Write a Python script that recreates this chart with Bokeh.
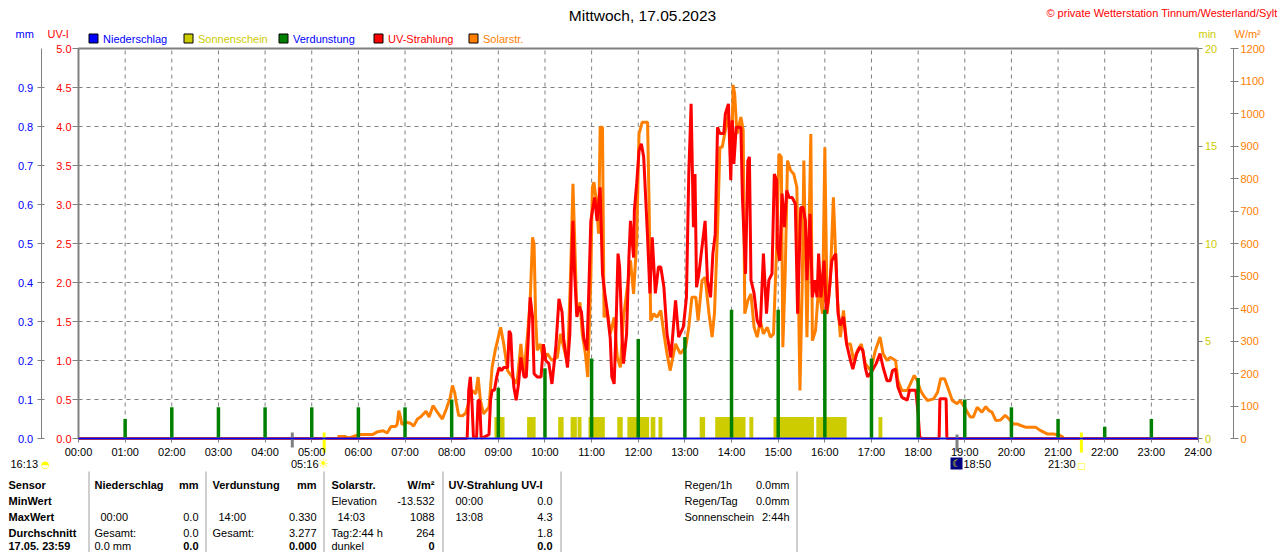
import numpy as np
from bokeh.plotting import figure
from bokeh.models import (Range1d, LinearAxis, FixedTicker, Label, ColumnDataSource,
                          NumeralTickFormatter)
from bokeh.core.properties import value
from bokeh.embed import file_html
from bokeh.resources import INLINE

FONT = "Liberation Sans"
SYM = "DejaVu Sans"

# ---------------- data ----------------
# Solar radiation, minute of day -> W/m2
solar_t = [333, 343, 348, 353, 358, 363, 378, 385, 392, 397, 402, 408, 410, 412, 414, 416, 421, 427, 431, 436,
           440, 447, 451, 456, 461, 468, 473, 478, 481, 484, 486, 489, 494, 498, 502, 506, 511, 514, 517, 521,
           528, 532, 536, 543, 547, 552, 558, 564, 569, 573, 578, 581, 584, 586, 588, 590, 594, 598, 603, 609,
           616, 620, 624, 629, 633, 636, 638, 641, 645, 648, 652, 655, 659, 661, 663, 666, 669, 671, 674, 676,
           680, 684, 689, 693, 697, 701, 706, 710, 714, 718, 721, 725, 732, 734, 736, 740, 744, 749, 753, 757,
           761, 768, 774, 781, 785, 789, 794, 797, 802, 806, 811, 815, 818, 822, 825, 828, 832, 836, 840, 842,
           844, 847, 852, 855, 857, 861, 865, 869, 873, 877, 881, 886, 890, 894, 898, 901, 904, 906, 909, 912,
           916, 920, 924, 928, 931, 933, 937, 942, 944, 948, 952, 957, 960, 963, 967, 971, 976, 980, 984, 988,
           993, 997, 1002, 1007, 1012, 1019, 1025, 1031, 1035, 1040, 1044, 1051, 1054, 1059, 1066, 1070, 1075,
           1079, 1083, 1087, 1092, 1100, 1105, 1109, 1114, 1118, 1124, 1130, 1134, 1141, 1147, 1151, 1156, 1162,
           1167, 1171, 1175, 1180, 1186, 1192, 1197, 1202, 1207, 1212, 1218, 1225, 1231, 1237, 1246, 1254, 1261,
           1265, 1267]
solar_w = [6, 6, 2, 6, 10, 12, 12, 21, 24, 17, 37, 37, 45, 86, 68, 43, 50, 47, 38, 60,
           66, 84, 66, 101, 83, 60, 90, 125, 163, 140, 110, 71, 70, 78, 110, 148, 137, 189, 117, 76,
           96, 219, 271, 342, 291, 209, 189, 168, 291, 199, 332, 425, 619, 599, 373, 271, 291, 240, 261, 240,
           250, 322, 281, 230, 507, 784, 630, 384, 419, 322, 261, 189, 496, 773, 789, 732, 630, 958, 958, 373,
           394, 322, 373, 250, 219, 373, 466, 548, 445, 609, 937, 973, 973, 712, 363, 384, 373, 394, 322, 260,
           209, 291, 261, 281, 342, 435, 435, 363, 486, 496, 384, 312, 384, 640, 896, 896, 948, 999, 845, 1088,
           1061, 937, 989, 948, 384, 425, 445, 342, 312, 363, 322, 342, 312, 322, 589, 876, 866, 281, 507, 855,
           825, 814, 773, 148, 486, 855, 312, 937, 301, 332, 466, 384, 896, 384, 486, 742, 435, 312, 394, 291,
           291, 240, 271, 291, 230, 209, 271, 312, 261, 240, 250, 240, 178, 148, 148, 168, 194,
           178, 148, 132, 117, 122, 142, 184, 184, 158, 117, 107, 117, 91, 66, 66, 96, 81,
           98, 86, 81, 55, 57, 71, 60, 45, 45, 40, 35, 35, 35, 25, 14, 14, 11,
           6, 3]

# UV index, minute of day -> UV-I
uv_t = [0, 499, 500, 502, 504, 506, 508, 512, 514, 516, 518, 528, 530, 532, 535, 538, 541, 544, 547, 552,
        554, 556, 558, 560, 563, 566, 569, 573, 576, 579, 581, 584, 586, 590, 595, 598, 601, 605, 609, 614,
        618, 622, 624, 629, 632, 634, 636, 638, 641, 644, 647, 650, 654, 656, 659, 661, 664, 667, 671, 674,
        677, 680, 684, 686, 689, 691, 694, 696, 699, 701, 705, 708, 710, 714, 715, 718, 721, 724, 727, 732,
        735, 738, 742, 746, 749, 753, 757, 762, 768, 772, 778, 782, 785, 788, 791, 793, 795, 798, 801, 804,
        806, 809, 813, 816, 819, 822, 825, 830, 832, 836, 839, 841, 843, 846, 852, 854, 858, 861, 863, 865,
        869, 873, 877, 881, 885, 888, 892, 895, 898, 899, 902, 905, 908, 911, 914, 918, 922, 925, 929, 932,
        935, 937, 941, 944, 947, 950, 952, 955, 959, 962, 965, 969, 974, 977, 980, 984, 988, 993, 996, 1001,
        1005, 1009, 1012, 1015, 1021, 1026, 1031, 1035, 1040, 1044, 1047, 1051, 1054, 1059, 1066, 1069, 1077,
        1080, 1082, 1085, 1107, 1108, 1116, 1117, 1440]
uv_i = [0, 0, 0.02, 0.62, 0.79, 0.49, 0.02, 0.0, 0.49, 0.49, 0.0, 0.05, 0.49, 0.62, 0.62, 0.79, 0.91, 0.87, 0.91, 0.91,
        1.38, 1.34, 0.91, 0.66, 0.49, 0.70, 1.04, 0.79, 0.79, 1.38, 1.81, 1.56, 0.83, 0.79, 0.79, 1.21, 1.0, 0.96, 0.70, 1.17,
        1.79, 1.62, 1.28, 0.91, 1.34, 2.15, 2.79, 2.15, 1.56, 1.69, 1.62, 1.28, 1.13, 1.75, 2.79, 2.92, 3.09, 2.79, 3.22, 2.11,
        1.86, 1.64, 1.28, 0.79, 0.70, 1.28, 2.37, 2.2, 1.34, 0.96, 1.34, 2.32, 2.79, 2.32, 2.92, 3.27, 3.69, 3.78, 3.61, 2.58,
        1.86, 2.58, 1.86, 2.2, 2.2, 1.94, 1.34, 1.04, 1.77, 1.30, 1.43, 1.81, 3.39, 4.29, 2.71, 3.39, 1.94, 2.11, 2.37, 2.62,
        2.79, 2.03, 1.81, 2.37, 2.62, 3.99, 3.91, 3.91, 4.16, 4.29, 3.31, 4.08, 3.52, 3.99, 3.99, 3.09, 2.11, 3.56, 3.61, 2.03,
        1.86, 1.51, 1.43, 2.37, 1.60, 2.03, 2.11, 3.39, 3.31, 2.45, 2.28, 3.14, 2.71, 3.18, 3.09, 3.09, 3.01, 1.60, 2.96, 2.96,
        2.79, 2.03, 2.88, 1.81, 2.03, 1.81, 2.37, 1.81, 2.28, 1.60, 1.81, 2.28, 2.37, 1.60, 1.45, 1.56, 1.21, 1.0, 0.89, 1.09,
        1.17, 1.13, 0.91, 0.79, 0.87, 0.96, 1.09, 0.91, 0.74, 0.74, 0.87, 0.89, 0.66, 0.53, 0.49, 0.62, 0.62,
        0.32, 0.02, 0, 0, 0.51, 0.51, 0, 0]

# Evaporation per hour (mm)
evap_hour = list(range(1, 24))
evap_mm = [0.05, 0.08, 0.08, 0.08, 0.08, 0.08, 0.08, 0.10, 0.13, 0.18, 0.205, 0.255, 0.26,
           0.33, 0.33, 0.33, 0.205, 0.155, 0.10, 0.08, 0.05, 0.03, 0.05]

# Sunshine intervals (minute of day) and sunshine minutes
sun_start = [535, 577, 617, 633, 642, 656, 693, 706, 736, 746, 799, 819, 863, 894, 949, 1029]
sun_end = [548, 588, 624, 641, 647, 677, 700, 734, 742, 751, 806, 858, 868, 946, 988, 1034]
sun_min = [1.1] * len(sun_start)

# Precipitation (mm)
rain_hour = [0, 24]
rain_mm = [0.0, 0.0]

# Astronomical events (minute of day)
moon_rise = 275      # 04:35
sun_rise = 316       # 05:16
moon_set = 1130      # 18:50
sun_set = 1290       # 21:30

hour_ticks = list(range(25))
hour_labels = ["%02d:00" % h for h in hour_ticks]
uv_ticks = [i * 0.5 for i in range(11)]
mm_ticks = [i * 0.1 for i in range(10)]
min_ticks = [0, 5, 10, 15, 20]
wm_ticks = list(range(0, 1300, 100))

# ---------------- layout constants (pixels of the page) ----------------
W, H = 1280, 552
PX0, PX24 = 78.0, 1197.5      # x of 00:00 and 24:00
PY0, PYT = 438.0, 48.0        # y of value 0 and of the top of the scales


def xr(X):
    return (X - PX0) / (PX24 - PX0) * 24.0


def rng(top_val):
    k = top_val / (PY0 - PYT)
    return Range1d((PY0 - H) * k, PY0 * k)


p = figure(width=W, height=H, title=None, x_range=Range1d(xr(0), xr(W)), y_range=rng(5.0),
           min_border=0, min_border_left=0, min_border_right=0, min_border_top=0, min_border_bottom=0,
           toolbar_location=None, output_backend="svg",
           background_fill_color="white", border_fill_color="white", outline_line_color=None)
p.extra_y_ranges = {"mm": rng(1.0), "min": rng(20.0), "wm": rng(1200.0), "py": Range1d(H, 0)}
p.extra_x_ranges = {"px": Range1d(0, W)}
p.xgrid.visible = False
p.ygrid.visible = False

GRAY = "#808080"
YEL = "#cccc00"
ORA = "#ff8000"


def style_axis(ax, color, tin, tout, standoff, line=True):
    ax.major_label_text_color = color
    ax.major_label_text_font = FONT
    ax.major_label_text_font_size = "11px"
    ax.major_tick_in = tin
    ax.major_tick_out = tout
    ax.major_tick_line_color = GRAY
    ax.minor_tick_line_color = None
    ax.axis_line_color = GRAY if line else None
    ax.major_label_standoff = standoff


# x axis at value 0
xa = p.xaxis[0]
xa.ticker = FixedTicker(ticks=hour_ticks)
xa.major_label_overrides = {h: lab for h, lab in zip(hour_ticks, hour_labels)}
style_axis(xa, "black", 0, 4, 3)
xa.axis_line_width = 2
xa.fixed_location = 0
xa.bounds = (0, 24)

# UV axis at 00:00
ya = p.yaxis[0]
ya.ticker = FixedTicker(ticks=uv_ticks)
ya.formatter = NumeralTickFormatter(format="0.0")
style_axis(ya, "red", 0, 6, 1, line=False)
ya.fixed_location = 0
ya.bounds = (0, 5)

# mm axis further left
mm_axis = LinearAxis(y_range_name="mm", ticker=FixedTicker(ticks=mm_ticks),
                     formatter=NumeralTickFormatter(format="0.0"), bounds=(0, 1),
                     fixed_location=xr(40.7))
style_axis(mm_axis, "blue", 3, 4, 4)
p.add_layout(mm_axis, "left")

# sunshine minutes axis at 24:00
min_axis = LinearAxis(y_range_name="min", ticker=FixedTicker(ticks=min_ticks),
                      formatter=NumeralTickFormatter(format="0"), bounds=(0, 20),
                      fixed_location=24)
style_axis(min_axis, YEL, 0, 4, 3, line=False)
p.add_layout(min_axis, "right")

# W/m2 axis further right
wm_axis = LinearAxis(y_range_name="wm", ticker=FixedTicker(ticks=wm_ticks),
                     formatter=NumeralTickFormatter(format="0"), bounds=(0, 1200),
                     fixed_location=xr(1233))
style_axis(wm_axis, ORA, 3, 5, 2)
p.add_layout(wm_axis, "right")

# dashed grid inside the plot area
gx = hour_ticks[1:-1]
p.segment(x0=gx, y0=[0] * len(gx), x1=gx, y1=[5] * len(gx), line_color=GRAY, line_dash="4 4", line_width=1)
gy = uv_ticks[1:-1]
p.segment(x0=[0] * len(gy), y0=gy, x1=[24] * len(gy), y1=gy, line_color=GRAY, line_dash="4 4", line_width=1)

# ---------------- marks ----------------
sun_src = ColumnDataSource(dict(left=[t / 60 for t in sun_start], right=[t / 60 for t in sun_end],
                                top=sun_min, bottom=[0] * len(sun_start)))
p.quad(left="left", right="right", top="top", bottom="bottom", source=sun_src,
       y_range_name="min", fill_color=YEL, line_color=None)

p.line([t / 60 for t in solar_t], solar_w, y_range_name="wm", line_color=ORA, line_width=3)
p.line([t / 60 for t in uv_t], uv_i, line_color="#ff0000", line_width=3)

p.vbar(x=evap_hour, top=evap_mm, width=0.075, bottom=0, y_range_name="mm",
       fill_color="#008000", line_color=None)

# plot frame
p.line([0, 0, 24, 24], [0, 5, 5, 0], line_color=GRAY, line_width=2)

# precipitation line, drawn above the time axis
p.line(rain_hour, rain_mm, y_range_name="mm", line_color="#0000ff", line_width=1.5, level="overlay")

# ---------------- texts and decorations (page pixel coordinates) ----------------
def txt(X, Y, s, color="black", size=11, bold=False, align="left", font=FONT):
    p.add_layout(Label(x=X, y=Y, x_range_name="px", y_range_name="py", text=s, text_color=color,
                       text_font=font, text_font_size="%gpx" % size,
                       text_font_style="bold" if bold else "normal",
                       text_align=align, text_baseline="middle"))


def box(X0, X1, Y0, Y1, fill, line=None):
    p.quad(left=[X0], right=[X1], top=[Y0], bottom=[Y1], x_range_name="px", y_range_name="py",
           fill_color=fill, line_color=line, line_width=1)


txt(642, 15, "Mittwoch, 17.05.2023", size=15.5, align="center")
txt(1277, 12, "© private Wetterstation Tinnum/Westerland/Sylt", color="red", size=11, align="right")
txt(15, 33, "mm", color="blue")
txt(47, 33, "UV-I", color="red")
txt(1198, 33, "min", color=YEL)
txt(1234, 33, "W/m²", color=ORA)

legend = [("Niederschlag", "#0000ff", "blue"), ("Sonnenschein", YEL, YEL),
          ("Verdunstung", "#008000", "blue"), ("UV-Strahlung", "#ff0000", "red"),
          ("Solarstr.", ORA, ORA)]
for i, (name, fc, tc) in enumerate(legend):
    x0 = 88.5 + 95 * i
    box(x0, x0 + 9, 33.5, 42.5, fc, "black")
    txt(x0 + 14, 38, name, color=tc)

# event markers crossing the time axis
for t, c, y0, y1 in [(moon_rise, GRAY, 432, 447), (sun_rise, "#ffff00", 432, 452),
                     (moon_set, GRAY, 434, 451), (sun_set, "#ffff00", 432, 452)]:
    X = PX0 + t / 60 / 24 * (PX24 - PX0)
    box(X - 1.5, X + 1.5, y0, y1, c)

txt(10, 463, "16:13")
txt(45, 464, "◓", color="#ffff00", size=10, align="center", font=SYM)
txt(318, 463, "05:16", align="right")
txt(323, 463, "☀", color="#ffff00", size=13, align="center", font=SYM)
box(950, 962, 457, 469, "#000080")
txt(956, 463, "☾", color="#ffff00", size=10, align="center", font=SYM)
txt(963, 463, "18:50")
txt(1075, 463, "21:30", align="right")
txt(1081, 465, "□", color="#ffff00", size=9, align="center", font=SYM)

# table
rows = [484, 500, 516, 532, 545]
for Y, s in zip(rows, ["Sensor", "MinWert", "MaxWert", "Durchschnitt", "17.05. 23:59"]):
    txt(8, Y, s, bold=True)
for X in [88, 205, 323, 442, 560, 796]:
    box(X, X + 1, 471, 552, "#a0a0a0")

table = [
    (94, rows[0], "Niederschlag", True, "left"), (198, rows[0], "mm", True, "right"),
    (100, rows[2], "00:00", False, "left"), (198, rows[2], "0.0", False, "right"),
    (94, rows[3], "Gesamt:", False, "left"), (198, rows[3], "0.0", False, "right"),
    (94, rows[4], "0.0 mm", False, "left"), (198, rows[4], "0.0", True, "right"),
    (212, rows[0], "Verdunstung", True, "left"), (316, rows[0], "mm", True, "right"),
    (218, rows[2], "14:00", False, "left"), (316, rows[2], "0.330", False, "right"),
    (212, rows[3], "Gesamt:", False, "left"), (316, rows[3], "3.277", False, "right"),
    (316, rows[4], "0.000", True, "right"),
    (331, rows[0], "Solarstr.", True, "left"), (434, rows[0], "W/m²", True, "right"),
    (331, rows[1], "Elevation", False, "left"), (434, rows[1], "-13.532", False, "right"),
    (337, rows[2], "14:03", False, "left"), (434, rows[2], "1088", False, "right"),
    (331, rows[3], "Tag:2:44 h", False, "left"), (434, rows[3], "264", False, "right"),
    (331, rows[4], "dunkel", False, "left"), (434, rows[4], "0", True, "right"),
    (448, rows[0], "UV-Strahlung UV-I", True, "left"),
    (455, rows[1], "00:00", False, "left"), (552, rows[1], "0.0", False, "right"),
    (455, rows[2], "13:08", False, "left"), (552, rows[2], "4.3", False, "right"),
    (552, rows[3], "1.8", False, "right"), (552, rows[4], "0.0", True, "right"),
    (684, rows[0], "Regen/1h", False, "left"), (789, rows[0], "0.0mm", False, "right"),
    (684, rows[1], "Regen/Tag", False, "left"), (789, rows[1], "0.0mm", False, "right"),
    (684, rows[2], "Sonnenschein", False, "left"), (789, rows[2], "2:44h", False, "right"),
]
for X, Y, s, b, al in table:
    txt(X, Y, s, bold=b, align=al)

open("out.html", "w").write(file_html(p, INLINE))
